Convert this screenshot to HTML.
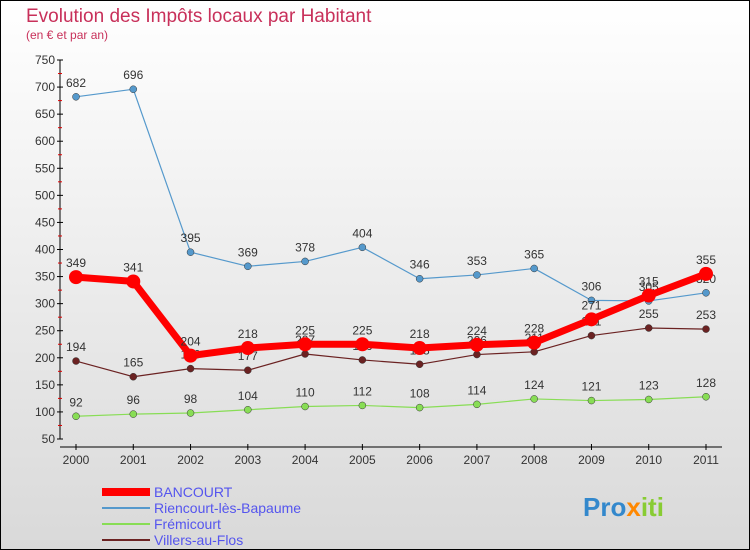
<!DOCTYPE html>
<html><head><meta charset="utf-8"><style>
body{margin:0;}
#c{width:750px;height:550px;position:relative;overflow:hidden;font-family:"Liberation Sans",sans-serif;}
</style></head><body>
<div id="c">
<svg id="s" width="750" height="550" xmlns="http://www.w3.org/2000/svg">
<defs><linearGradient id="bg" x1="0" y1="0" x2="0" y2="1"><stop offset="0" stop-color="#ffffff"/><stop offset="1" stop-color="#d9d9d9"/></linearGradient></defs>
<rect x="0.5" y="0.5" width="749" height="549" fill="url(#bg)" stroke="#000"/>
<text x="26" y="22" font-size="19" fill="#c8305a">Evolution des Impôts locaux par Habitant</text>
<text x="26" y="39" font-size="12" fill="#c8305a">(en € et par an)</text>
<g id="axes"></g><g id="plot"></g>
<g font-size="14" fill="#5555ee">
<line x1="102" y1="492" x2="150" y2="492" stroke="#ff0000" stroke-width="8"/>
<text x="154" y="497">BANCOURT</text>
<line x1="102" y1="508" x2="150" y2="508" stroke="#5599cc" stroke-width="2"/>
<text x="154" y="513">Riencourt-lès-Bapaume</text>
<line x1="102" y1="524" x2="150" y2="524" stroke="#88dd55" stroke-width="2"/>
<text x="154" y="529">Frémicourt</text>
<line x1="102" y1="540" x2="150" y2="540" stroke="#6b2222" stroke-width="2"/>
<text x="154" y="545">Villers-au-Flos</text>
</g>
<text x="583" y="516" font-size="26" font-weight="bold"><tspan fill="#3388cc">Pro</tspan><tspan fill="#ff8800">x</tspan><tspan fill="#88cc33">iti</tspan></text>
</svg></div>
<script>
const years=["2000","2001","2002","2003","2004","2005","2006","2007","2008","2009","2010","2011"];
const bancourt=[349,341,204,218,225,225,218,224,228,271,315,355];
const riencourt=[682,696,395,369,378,404,346,353,365,306,305,320];
const fremicourt=[92,96,98,104,110,112,108,114,124,121,123,128];
const villers=[194,165,180,177,207,196,188,206,211,241,255,253];
const yTicks=[50,100,150,200,250,300,350,400,450,500,550,600,650,700,750];
const NS="http://www.w3.org/2000/svg";
const X=i=>76+i*(630/11);
const Y=v=>439-(v-50)*(379/700);
function mk(t,a,p){const e=document.createElementNS(NS,t);for(const k in a)e.setAttribute(k,a[k]);p.appendChild(e);return e;}
const ax=document.getElementById('axes'),pl=document.getElementById('plot');
let l=mk('line',{x1:60,y1:Y(750),x2:60,y2:Y(50),stroke:'#000'},ax);

l=mk('line',{x1:60,y1:Y(50)+8,x2:722,y2:Y(50)+8,stroke:'#000'},ax);

yTicks.forEach(v=>{mk('line',{x1:57,y1:Y(v),x2:63,y2:Y(v),stroke:'#000'},ax);
 if(v<750)mk('line',{x1:58,y1:Y(v+25),x2:62,y2:Y(v+25),stroke:'#d00'},ax);
 const t=mk('text',{x:55,y:Y(v)+4,'text-anchor':'end','font-size':12,fill:'#333'},ax);t.textContent=v;
 });
years.forEach((y,i)=>{mk('line',{x1:X(i),y1:Y(50)+5,x2:X(i),y2:Y(50)+11,stroke:'#000'},ax);
 const t=mk('text',{x:X(i),y:464,'text-anchor':'middle','font-size':12,fill:'#333'},ax);t.textContent=y;
 });
function series(d,name,col,w,r){const g=mk('g',{},pl);
 mk('polyline',{points:d.map((v,i)=>X(i)+','+Y(v)).join(' '),fill:'none',stroke:col,'stroke-width':w,'stroke-linejoin':'round'},g);
 d.forEach((v,i)=>{const c=mk('circle',{cx:X(i),cy:Y(v),r:r,fill:col,stroke:w>3?col:'#333','stroke-width':w>3?0:0.5},g);
  
  const t=mk('text',{x:X(i),y:Y(v)-10,'text-anchor':'middle','font-size':12,fill:'#333'},g);t.textContent=v;
  });}
series(fremicourt,'fremicourt','#88dd55',1.2,3.5);
series(villers,'villers','#6b2222',1.2,3.5);
series(riencourt,'riencourt','#5599cc',1.2,3.5);
series(bancourt,'bancourt','#ff0000',7,7);
</script></body></html>
